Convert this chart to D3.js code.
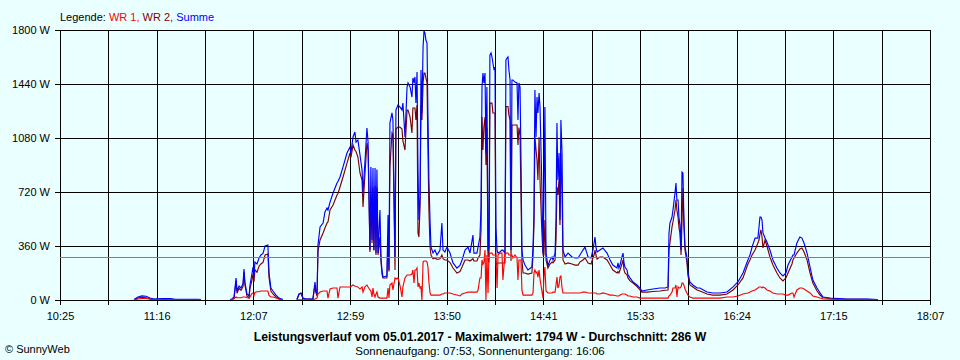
<!DOCTYPE html>
<html><head><meta charset="utf-8">
<script src="https://cdn.jsdelivr.net/npm/d3@7"></script>
<style>
body{margin:0;background:#eaffff;}
svg{display:block;}
text{font-family:"Liberation Sans",Arial,sans-serif;}
</style>
</head><body><svg id="c" width="960" height="360"></svg>
<script>
// ---- data ----
const timeLabels = ["10:25","11:16","12:07","12:59","13:50","14:41","15:33","16:24","17:15","18:07"];
const yTicks = [0,360,720,1080,1440,1800];
const averageW = 286;
const legendItems = ["WR 1", "WR 2", "Summe"];
const titleText = "Leistungsverlauf vom 05.01.2017 - Maximalwert: 1794 W - Durchschnitt: 286 W";
const subtitleText = "Sonnenaufgang: 07:53, Sonnenuntergang: 16:06";
const copyrightText = "\u00A9 SunnyWeb";

// time in minutes of the day
const minutes = [664.3,666.4,668.5,670.7,672.8,674.9,679.7,683.4,686.1,698.3,699.9,705.0,
715.3,716.3,717.4,718.5,719.0,720.1,721.1,722.2,722.7,723.2,724.3,725.4,725.9,727.0,727.5,728.0,728.5,729.6,730.7,731.7,732.8,733.9,735.4,736.0,737.0,738.1,739.7,741.3,743.4,747.0,
750.8,751.9,753.0,754.0,755.6,759.3,760.4,760.9,761.5,762.0,763.1,764.7,765.7,766.8,767.3,768.4,770.0,772.1,772.6,773.7,775.3,777.4,779.0,779.5,780.6,781.6,782.2,783.2,784.3,785.4,785.9,787.0,788.0,788.6,789.6,790.1,790.7,791.2,791.7,792.3,792.8,793.3,793.9,794.9,795.5,796.0,796.5,798.6,799.2,799.7,
800.2,801.3,801.8,802.9,803.4,804.5,805.5,806.6,807.1,808.2,809.3,809.8,810.9,811.9,812.4,813.0,813.5,814.0,814.6,815.1,815.6,816.2,816.7,817.2,817.8,818.3,818.8,819.3,819.9,820.4,820.9,821.5,822.0,823.1,824.1,825.2,826.8,827.8,828.4,829.4,830.5,832.1,833.7,835.8,837.4,838.5,840.1,841.7,842.7,844.3,844.8,846.4,847.0,848.0,848.6,849.1,849.6,850.1,850.7,851.2,851.7,852.3,852.8,853.3,853.9,854.4,854.9,855.5,856.0,856.5,857.1,857.6,858.6,859.7,860.2,861.3,861.8,862.4,862.9,863.4,864.0,864.5,865.0,865.5,866.6,867.7,868.2,868.7,869.3,869.8,870.3,870.9,871.9,873.5,875.6,876.2,876.7,877.2,877.8,878.3,878.8,879.4,879.9,880.9,881.5,882.0,882.5,883.1,884.1,885.2,886.3,886.8,887.9,888.4,888.9,889.4,890.0,890.5,891.0,891.6,892.1,893.2,894.8,896.9,898.5,
900.1,901.1,902.7,903.8,904.8,905.4,907.0,908.0,908.6,909.1,909.6,910.2,911.7,913.3,915.5,917.1,918.6,920.8,921.3,921.8,922.4,923.4,924.0,924.5,925.0,926.1,926.6,927.7,929.3,931.4,933.0,934.0,936.7,939.9,943.6,946.3,947.9,948.4,948.9,950.0,950.5,951.6,952.1,952.6,953.2,953.7,954.2,954.8,955.3,955.8,956.3,956.9,957.9,958.5,959.5,961.1,963.3,964.8,968.6,971.7,975.5,979.2,982.4,985.0,987.7,990.3,991.4,992.5,994.1,995.6,996.2,996.7,997.2,997.8,998.3,999.4,
1000.4,1002.0,1003.6,1005.7,1007.3,1008.9,1010.5,1011.6,1013.7,1014.2,1014.8,1016.3,1017.9,1019.0,1020.1,1021.7,1023.3,1024.8,1027.0,1028.6,1030.2,1033.9,1042.9,1053.5,1059.4];

const summe = [3,20,27,25,13,7,10,10,5,5,3,null,
3,7,20,147,60,93,80,110,207,120,40,27,100,180,220,150,253,240,280,300,310,360,367,180,80,60,33,13,3,null,
3,40,47,13,7,7,120,60,40,367,487,513,587,613,600,653,713,780,790,820,887,980,1020,980,1087,1120,1053,1067,967,867,713,933,1147,1053,333,887,400,880,333,880,313,870,313,600,267,200,153,160,567,200,
1180,1247,1200,287,1267,1300,1287,1267,1313,1087,1420,1447,1420,1353,1480,1450,1487,1313,1520,867,533,687,1533,1247,1687,1794,1780,1733,1713,1220,800,533,353,313,333,300,333,513,333,320,353,313,247,213,230,267,333,353,313,433,313,313,353,420,620,1420,1513,1447,1513,980,1420,333,340,1633,1647,1620,1580,1533,1553,487,333,313,320,333,333,313,1600,1613,1620,1533,1467,333,1467,1467,1453,1447,1200,1447,1420,933,333,267,233,200,220,353,580,1400,1087,1353,1247,1380,1287,753,313,700,1287,313,227,267,287,267,313,533,1180,800,980,533,1200,980,333,287,313,287,280,
280,300,333,353,313,287,280,333,380,420,353,320,333,347,313,267,233,213,247,213,233,287,313,247,220,200,167,147,120,100,80,60,67,73,80,80,87,447,513,553,600,713,780,667,667,550,500,333,853,847,553,353,287,180,120,100,80,80,53,47,47,53,87,120,180,267,300,353,413,413,487,553,553,533,447,413,
387,333,267,213,180,160,180,233,287,300,300,380,420,413,380,313,220,133,80,47,20,13,7,7,3];

const wr1 = [1,7,10,10,5,3,3,3,2,2,1,null,
1,3,10,20,15,15,15,20,20,20,15,13,20,45,45,30,50,55,55,60,60,60,60,30,20,20,13,5,1,null,
1,1,1,1,1,1,7,10,13,40,53,60,60,60,13,73,80,80,13,87,87,87,87,90,100,93,90,87,73,87,53,90,100,87,67,60,20,80,40,20,40,53,20,13,13,13,13,13,80,13,
100,113,67,147,140,147,100,20,87,147,167,167,167,173,200,113,200,200,213,87,113,80,87,0,253,260,260,260,253,220,120,47,33,33,33,33,33,40,40,47,47,47,40,33,27,40,47,53,53,53,53,53,67,147,147,267,240,250,333,0,300,47,300,313,313,313,300,300,300,300,80,300,313,313,133,313,313,313,313,300,300,300,300,280,300,280,133,267,267,267,67,33,33,33,33,47,180,200,180,187,153,200,140,60,13,160,220,60,47,47,47,53,53,100,153,80,100,153,160,80,47,47,47,47,47,
47,47,53,53,50,47,47,47,47,47,47,40,40,47,40,33,33,27,27,27,33,40,40,40,40,33,27,27,20,20,13,13,13,13,13,13,13,27,33,53,80,80,100,20,87,80,80,87,113,113,100,73,47,33,20,13,13,13,13,13,13,20,20,27,40,47,53,60,67,80,87,87,87,80,87,80,
67,60,47,40,40,40,33,33,47,47,20,67,80,80,73,60,47,27,20,13,7,5,2,2,1];

const wr2 = [2,13,17,15,8,4,7,7,3,3,2,null,
2,4,10,127,45,78,65,90,187,100,25,14,80,135,175,120,203,185,225,240,250,300,307,150,60,40,20,8,2,null,
2,38,45,12,6,6,100,50,27,327,400,447,480,513,520,600,633,700,710,753,820,913,980,950,1033,1000,990,953,847,800,620,850,1047,1000,320,700,380,750,330,760,300,750,300,420,250,170,147,147,420,190,
887,1113,1100,200,1140,1153,1153,1140,1060,1000,1267,1267,1220,1113,1280,1280,1280,1200,1300,447,420,620,1300,1200,1447,1513,1513,1480,1450,1000,600,353,300,275,280,270,275,300,275,267,267,250,213,180,190,220,267,267,260,275,260,260,280,300,473,1220,1000,1150,1220,900,1150,267,250,1313,1313,1313,1247,1247,1247,230,247,247,247,247,247,247,1290,1290,1290,1230,1200,260,1167,1167,1167,1167,1033,1150,1100,700,267,180,180,173,180,300,500,1087,1000,933,800,1087,800,447,300,300,533,267,213,240,253,247,267,400,753,700,800,500,980,700,267,240,247,240,233,
233,253,267,280,260,247,240,280,300,333,300,273,287,287,267,233,200,180,190,180,200,240,267,200,180,167,147,127,113,90,67,53,53,57,60,65,67,333,380,487,520,600,667,600,553,480,447,300,520,747,500,333,253,160,100,87,67,60,40,33,33,40,67,100,147,240,267,300,333,380,400,440,467,420,347,400,
360,287,233,180,147,127,147,180,240,267,280,313,340,347,320,267,180,113,60,33,15,10,5,5,2];

// ---- chart ----
const W = 960, H = 360;
const svg = d3.select("#c");
const toMin = s => { const [h, m] = s.split(":").map(Number); return h * 60 + m; };
const tStart = toMin(timeLabels[0]), tEnd = toMin(timeLabels[timeLabels.length - 1]);

const x = d3.scaleLinear().domain([tStart, tEnd]).range([60, 930]);
const y = d3.scaleLinear().domain([0, 1800]).range([300, 30]);

svg.append("rect").attr("width", W).attr("height", H).attr("fill", "#eaffff");

// grid ticks: one between every labelled time
const nGrid = (timeLabels.length - 1) * 2;
const gridTicks = d3.range(nGrid + 1).map(i => tStart + i * (tEnd - tStart) / nGrid);

const gx = svg.append("g").attr("transform", "translate(0,30)")
  .call(d3.axisBottom(x).tickValues(gridTicks).tickSize(275).tickPadding(7)
    .tickFormat((d, i) => i % 2 === 0 ? timeLabels[i / 2] : ""));
gx.select(".domain").remove();
gx.selectAll("line").attr("stroke", "#000").attr("shape-rendering", "crispEdges");
gx.selectAll("text").attr("font-size", 11).attr("fill", "#000")
  .attr("font-family", "Liberation Sans, Arial, sans-serif");

const gy = svg.append("g").attr("transform", "translate(930,0)")
  .call(d3.axisLeft(y).tickValues(yTicks).tickSize(875).tickPadding(5)
    .tickFormat(d => d + " W"));
gy.select(".domain").remove();
gy.selectAll("line").attr("stroke", "#000").attr("shape-rendering", "crispEdges");
gy.selectAll("text").attr("font-size", 11).attr("fill", "#000")
  .attr("font-family", "Liberation Sans, Arial, sans-serif");

// data lines
const idx = d3.range(minutes.length);
function drawSeries(values, color) {
  const line = d3.line()
    .defined(i => values[i] != null)
    .x(i => x(minutes[i]))
    .y(i => y(values[i]));
  svg.append("path").datum(idx).attr("d", line)
    .attr("fill", "none").attr("stroke", color).attr("stroke-width", 1.15)
    .attr("stroke-linejoin", "miter");
}
drawSeries(wr2, "#800000");
drawSeries(summe, "#0000ff");
drawSeries(wr1, "#ff0000");

// average line
svg.append("line").attr("x1", 60).attr("x2", 930)
  .attr("y1", Math.round(y(averageW)) + 0.5).attr("y2", Math.round(y(averageW)) + 0.5)
  .attr("stroke", "#808080").attr("stroke-width", 1);

// redraw zero baseline on top
svg.append("line").attr("x1", 55).attr("x2", 930)
  .attr("y1", y(0) + 0.5).attr("y2", y(0) + 0.5)
  .attr("stroke", "#000").attr("stroke-width", 1);

// legend
const leg = svg.append("text").attr("x", 60).attr("y", 21).attr("font-size", 11);
leg.append("tspan").attr("fill", "#000").text("Legende: ");
leg.append("tspan").attr("fill", "#ff0000").text(legendItems[0] + ", ");
leg.append("tspan").attr("fill", "#800000").text(legendItems[1] + ", ");
leg.append("tspan").attr("fill", "#0000ff").text(legendItems[2]);

// title etc.
svg.append("text").attr("x", 480).attr("y", 341).attr("text-anchor", "middle")
  .attr("font-size", 12.2).attr("font-weight", "bold").attr("fill", "#000").text(titleText);
svg.append("text").attr("x", 480).attr("y", 355).attr("text-anchor", "middle")
  .attr("font-size", 11.5).attr("fill", "#000").text(subtitleText);
svg.append("text").attr("x", 5).attr("y", 353)
  .attr("font-size", 11).attr("fill", "#000").text(copyrightText);
</script>
</body></html>
